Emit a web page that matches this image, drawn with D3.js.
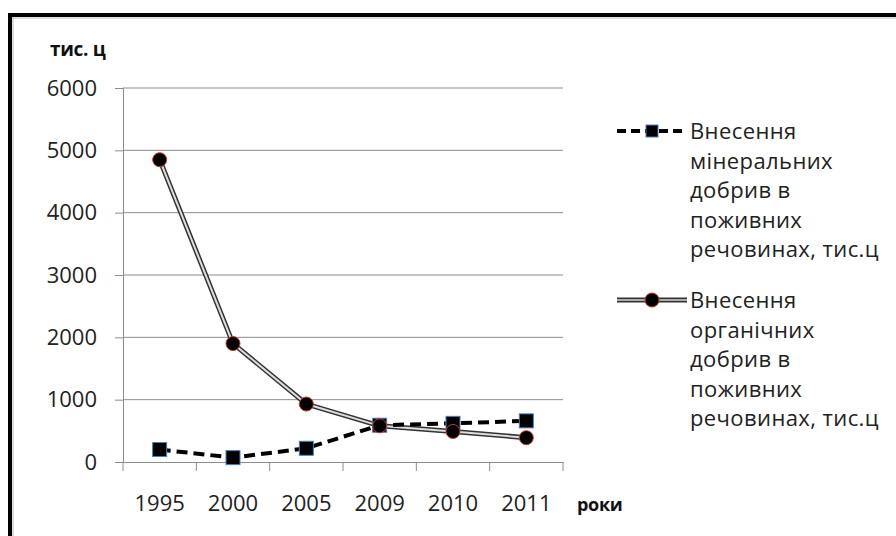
<!DOCTYPE html>
<html>
<head>
<meta charset="utf-8">
<script src="https://cdn.jsdelivr.net/npm/d3@7"></script>
<style>
  body { margin: 0; background: #fff; }
  svg { display: block; font-family: "Open Sans", "Noto Sans", sans-serif; }
</style>
</head>
<body>
<div id="chart"></div>
<script>
const years = ["1995", "2000", "2005", "2009", "2010", "2011"];
const mineral = [200, 70, 220, 590, 620, 660];
const organic = [4850, 1900, 930, 580, 490, 390];
const yTicks = [0, 1000, 2000, 3000, 4000, 5000, 6000];
const legendMineral = ["Внесення", "мінеральних", "добрив в", "поживних", "речовинах, тис.ц"];
const legendOrganic = ["Внесення", "органічних", "добрив в", "поживних", "речовинах, тис.ц"];

const W = 896, H = 536;
const margin = { left: 123, top: 88, right: 333, bottom: 74 };
const FONT = '"Open Sans", "Noto Sans", sans-serif';

const svg = d3.select("#chart").append("svg").attr("width", W).attr("height", H);

// frame
svg.append("rect").attr("x", 0).attr("y", 0).attr("width", W).attr("height", H).attr("fill", "#fff");
svg.append("line").attr("x1", 8).attr("x2", W).attr("y1", 15).attr("y2", 15)
  .attr("stroke", "#000").attr("stroke-width", 4);
svg.append("line").attr("x1", 10).attr("x2", 10).attr("y1", 13).attr("y2", H)
  .attr("stroke", "#000").attr("stroke-width", 4);
svg.append("line").attr("x1", 12).attr("x2", W).attr("y1", 18).attr("y2", 18)
  .attr("stroke", "#bbb").attr("stroke-width", 1);
svg.append("line").attr("x1", 13).attr("x2", 13).attr("y1", 17).attr("y2", H)
  .attr("stroke", "#bbb").attr("stroke-width", 1);

const x = d3.scaleBand().domain(years).range([margin.left, W - margin.right]);
const y = d3.scaleLinear().domain([0, 6000]).range([H - margin.bottom, margin.top]);

// gridlines
svg.append("g")
  .selectAll("line").data(yTicks.slice(1)).join("line")
  .attr("x1", margin.left).attr("x2", W - margin.right)
  .attr("y1", d => y(d)).attr("y2", d => y(d))
  .attr("stroke", "#8c8c8c").attr("stroke-width", 1);

// y axis
const yAxis = svg.append("g").attr("transform", `translate(${margin.left},0)`)
  .call(d3.axisLeft(y).tickValues(yTicks).tickFormat(d3.format("d")).tickSize(8).tickPadding(18));
yAxis.attr("font-family", FONT).attr("font-size", 22);
yAxis.select(".domain").attr("stroke", "#8c8c8c");
yAxis.selectAll(".tick line").attr("stroke", "#8c8c8c");
yAxis.selectAll("text").attr("fill", "#222");

// x axis
const xAxis = svg.append("g").attr("transform", `translate(0,${y(0)})`)
  .call(d3.axisBottom(x).tickSize(0).tickPadding(33));
xAxis.attr("font-family", FONT).attr("font-size", 22);
xAxis.select(".domain").attr("stroke", "#8c8c8c");
xAxis.selectAll("text").attr("fill", "#222");
svg.append("g").selectAll("line")
  .data(years.map(d => x(d)).concat([x.range()[1]]))
  .join("line")
  .attr("x1", d => d).attr("x2", d => d)
  .attr("y1", y(0)).attr("y2", y(0) + 9)
  .attr("stroke", "#8c8c8c");

// titles
svg.append("text").attr("x", 50).attr("y", 56).text("тис. ц")
  .attr("font-size", 19).attr("font-weight", "bold").attr("letter-spacing", -0.3).attr("fill", "#111");
svg.append("text").attr("x", 577).attr("y", 511).text("роки")
  .attr("font-size", 18).attr("font-weight", "bold").attr("letter-spacing", -0.3).attr("fill", "#111");

const cx = d => x(d) + x.bandwidth() / 2;
const line = d3.line().x((d, i) => cx(years[i])).y(d => y(d));

// organic: double line
svg.append("path").datum(organic).attr("d", line)
  .attr("fill", "none").attr("stroke", "#333").attr("stroke-width", 5);
svg.append("path").datum(organic).attr("d", line)
  .attr("fill", "none").attr("stroke", "#ddd").attr("stroke-width", 2);

// mineral: dashed line
svg.append("path").datum(mineral).attr("d", line)
  .attr("fill", "none").attr("stroke", "#000").attr("stroke-width", 4)
  .attr("stroke-dasharray", "11,6");

// markers
svg.append("g").selectAll("rect").data(mineral).join("rect")
  .attr("x", (d, i) => cx(years[i]) - 7).attr("y", d => y(d) - 7)
  .attr("width", 14).attr("height", 14)
  .attr("fill", "#000").attr("stroke", "#4a7ebb").attr("stroke-width", 1);
svg.append("g").selectAll("circle").data(organic).join("circle")
  .attr("cx", (d, i) => cx(years[i])).attr("cy", d => y(d)).attr("r", 7)
  .attr("fill", "#000").attr("stroke", "#c0392b").attr("stroke-width", 1);

// legend
const lx0 = 617, lx1 = 687, tx = 690, lh = 29.5;
function legendText(lines, y0) {
  const t = svg.append("text").attr("x", tx).attr("y", y0)
    .attr("font-size", 22).attr("letter-spacing", 0.4).attr("fill", "#222");
  lines.forEach((s, i) => t.append("tspan").attr("x", tx).attr("dy", i ? lh : 0).text(s));
}
const ly1 = 131, ly2 = 300;
svg.append("line").attr("x1", lx0).attr("x2", lx1).attr("y1", ly1).attr("y2", ly1)
  .attr("stroke", "#000").attr("stroke-width", 4).attr("stroke-dasharray", "9,5");
svg.append("rect").attr("x", (lx0 + lx1) / 2 - 6).attr("y", ly1 - 6).attr("width", 12).attr("height", 12)
  .attr("fill", "#000").attr("stroke", "#4a7ebb");
legendText(legendMineral, ly1 + 8);

svg.append("line").attr("x1", lx0).attr("x2", lx1).attr("y1", ly2).attr("y2", ly2)
  .attr("stroke", "#333").attr("stroke-width", 5);
svg.append("line").attr("x1", lx0).attr("x2", lx1).attr("y1", ly2).attr("y2", ly2)
  .attr("stroke", "#aaa").attr("stroke-width", 2);
svg.append("circle").attr("cx", (lx0 + lx1) / 2).attr("cy", ly2).attr("r", 7)
  .attr("fill", "#000").attr("stroke", "#c0392b");
legendText(legendOrganic, ly2 + 8);
</script>
</body>
</html>
